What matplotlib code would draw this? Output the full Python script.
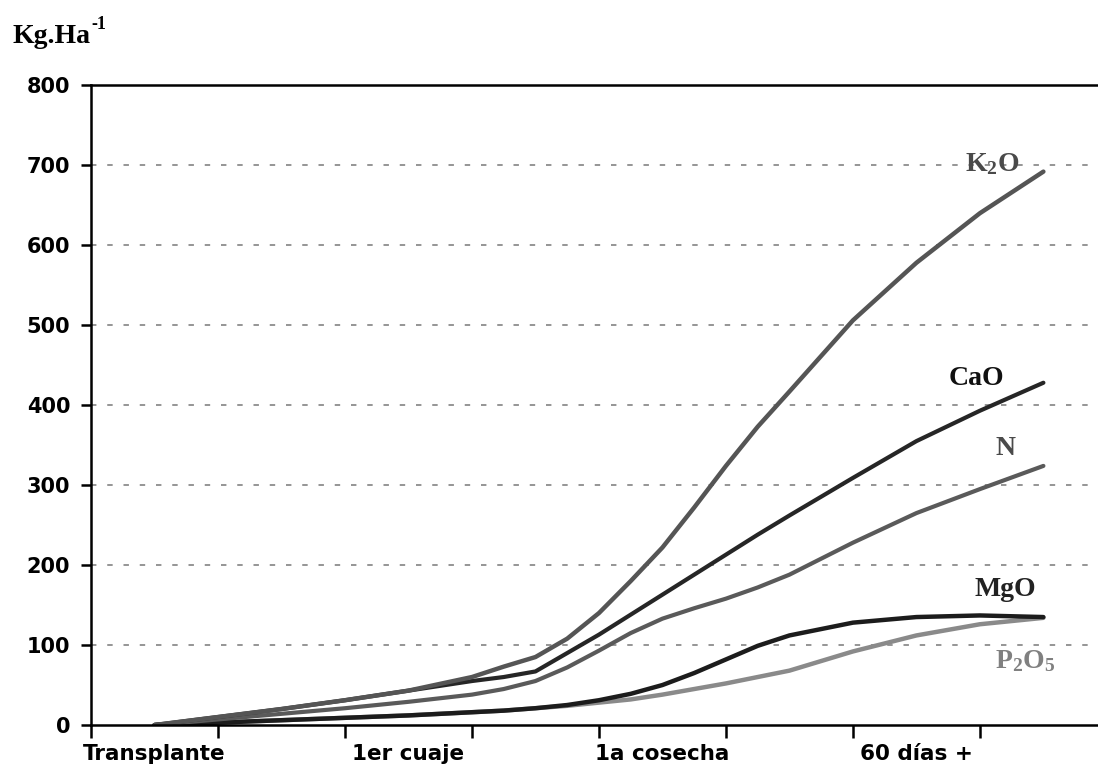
import matplotlib
matplotlib.use("Agg")
import matplotlib.pyplot as plt
import numpy as np

# category positions, 0 = Transplante, 2 = 1er cuaje, 4 = 1a cosecha, 6 = 60 días +
x = [0, 0.5, 1, 1.5, 2, 2.5, 2.75, 3, 3.25, 3.5, 3.75, 4, 4.25, 4.5, 4.75, 5,
     5.5, 6, 6.5, 7]

k2o = [0, 10, 20, 31, 43, 60, 73, 85, 108, 140, 180, 222, 272, 324, 373, 417,
       506, 578, 640, 692]
cao = [0, 10, 20, 31, 43, 55, 60, 67, 90, 113, 138, 163, 188, 213, 238, 262,
       309, 355, 393, 428]
n = [0, 7, 14, 21, 29, 38, 45, 55, 72, 93, 115, 133, 146, 158, 172, 188,
     228, 265, 295, 324]
mgo = [0, 3, 6, 9, 12, 16, 18, 21, 25, 31, 39, 50, 65, 82, 99, 112,
       128, 135, 137, 135]
p2o5 = [0, 3, 6, 9, 12, 16, 18, 21, 24, 28, 32, 38, 45, 52, 60, 68,
        92, 112, 126, 134]

cat_labels = ["Transplante", "1er cuaje", "1a cosecha", "60 días +"]
cat_pos = [0, 2, 4, 6]

serif = "Liberation Serif"
plt.rcParams["mathtext.fontset"] = "custom"
plt.rcParams["mathtext.rm"] = serif
plt.rcParams["mathtext.bf"] = serif + ":bold"

fig = plt.figure(figsize=(10.98, 7.75), dpi=100)
ax = fig.add_axes([0.0829, 0.0645, 0.9171, 0.8255])

ax.plot(x, p2o5, color="#8a8a8a", lw=3.2, solid_capstyle="round")
ax.plot(x, mgo, color="#1c1c1c", lw=3.2, solid_capstyle="round")
ax.plot(x, n, color="#5a5a5a", lw=3.0, solid_capstyle="round")
ax.plot(x, cao, color="#262626", lw=3.0, solid_capstyle="round")
ax.plot(x, k2o, color="#555555", lw=3.2, solid_capstyle="round")

# series names at the line ends
ax.text(6.6, 703, r"$\mathbf{K_2O}$", color="#4a4a4a", fontsize=20, ha="center", va="center")
ax.text(6.47, 433, "CaO", family=serif, weight="bold", color="#111111", fontsize=20, ha="center", va="center")
ax.text(6.70, 346, "N", family=serif, weight="bold", color="#4a4a4a", fontsize=20, ha="center", va="center")
ax.text(6.70, 170, "MgO", family=serif, weight="bold", color="#222222", fontsize=20, ha="center", va="center")
ax.text(6.86, 81, r"$\mathbf{P_2O_5}$", color="#808080", fontsize=20, ha="center", va="center")

ax.set_xlim(-0.5, 7.43)
ax.set_ylim(0, 800)

# y axis
ax.set_yticks(np.arange(0, 801, 100))
for v in range(100, 800, 100):
    ax.axhline(v, color="#8c8c8c", lw=1.3, ls=(0, (3, 6)), zorder=0)
ax.tick_params(axis="y", direction="out", length=7, width=1.8, pad=8, labelsize=15)
for lbl in ax.get_yticklabels():
    lbl.set_fontweight("bold")

# x axis: ticks at category boundaries, labels centred in between
ax.set_xticks(np.arange(-0.5, 7.43, 1))
ax.set_xticklabels([])
ax.set_xticks(cat_pos, minor=True)
ax.set_xticklabels(cat_labels, minor=True, fontsize=15.5, fontweight="bold")
ax.tick_params(axis="x", which="major", direction="out", length=9, width=1.8)
ax.tick_params(axis="x", which="minor", length=0, pad=14)

for side in ["left", "bottom", "top"]:
    ax.spines[side].set_linewidth(1.8)
ax.spines["right"].set_visible(False)

# unit label top left
t = fig.text(0.011, 0.953, "Kg.Ha", family=serif, weight="bold", fontsize=20,
             ha="left", va="center")
ax.annotate("-1", xy=(1, 0.62), xycoords=t, xytext=(1, 0), textcoords="offset points",
            family=serif, weight="bold", fontsize=13, ha="left", va="bottom",
            annotation_clip=False)

fig.savefig("out.png", dpi=100)
